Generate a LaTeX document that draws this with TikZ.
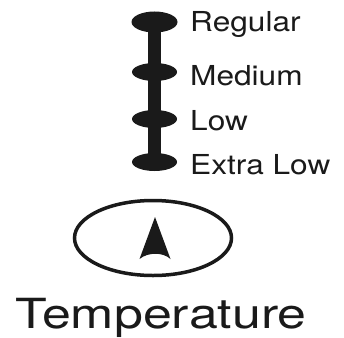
\documentclass[tikz,border=0pt]{standalone}
\usepackage{fontspec}
\newfontfamily\labfont[FakeStretch=1.15]{TeX Gyre Heros}
\newfontfamily\titfont[FakeStretch=1.25]{TeX Gyre Heros}
\usetikzlibrary{shapes.geometric}
\definecolor{ink}{HTML}{1A1A1A}
\tikzset{
  dot/.style={ellipse, fill=ink, inner sep=0pt, minimum width=45pt, minimum height=18pt},
  lab/.style={anchor=base west, inner sep=0pt, text=ink, font=\labfont\fontsize{27.5}{30}\selectfont},
  tit/.style={anchor=base west, inner sep=0pt, text=ink, font=\titfont\fontsize{41.5}{44}\selectfont},
  ring/.style={ellipse, draw=ink, line width=3.5pt, minimum width=157pt, minimum height=75pt, inner sep=0pt}
}
\begin{document}
\begin{tikzpicture}[x=1pt,y=-1pt]
\useasboundingbox (0,0) rectangle (344,337);
\coordinate (s1) at (154.5,22);
\coordinate (s4) at (154.5,162);
\draw[ink, line width=13pt] (s1) -- (s4);
\node[dot, minimum width=46pt, minimum height=21pt] (d1) at (154.5,22) {};
\node[dot] (d2) at (154.5,72) {};
\node[dot] (d3) at (154.5,119) {};
\node[dot] (d4) at (154.5,162) {};
\node[lab] (l1) at (190,31) {Regular};
\node[lab] (l2) at (190,85) {Medium};
\node[lab] (l3) at (190,130) {Low};
\node[lab] (l4) at (190,174) {Extra Low};
\node[ring] (r) at (153,238) {};
\fill[ink] (155,217) -- (170.5,259) .. controls (163,252) and (148,252) .. (139.5,259) -- cycle;
\node[tit] (t) at (15,328) {Temperature};
\end{tikzpicture}
\end{document}
